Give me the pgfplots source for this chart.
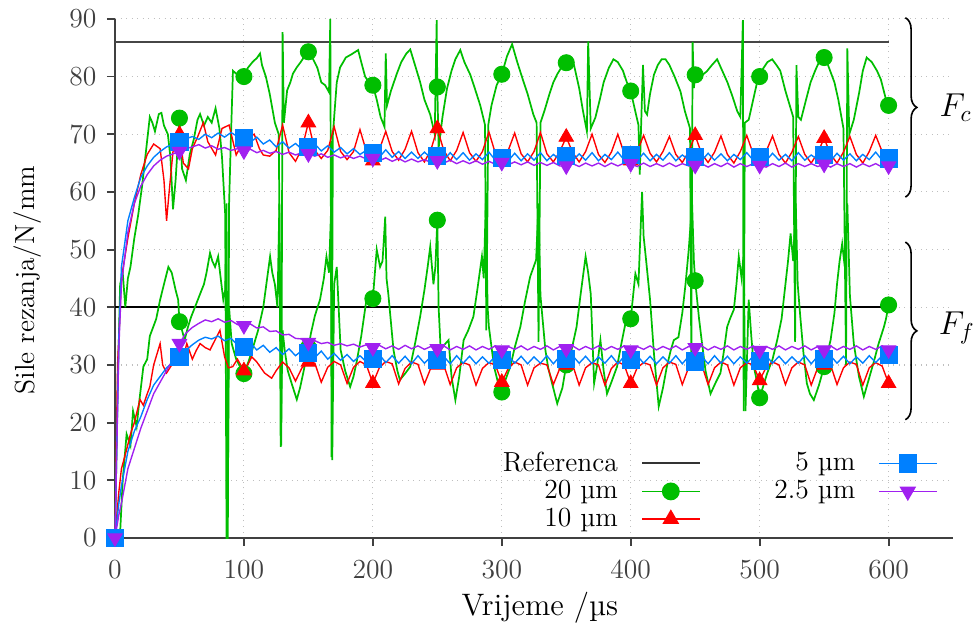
\documentclass[border=0pt]{standalone}
\usepackage{pgfplots}
\pgfplotsset{compat=1.18}
\usetikzlibrary{decorations.pathreplacing}
\definecolor{cgreen}{RGB}{0,190,0}
\definecolor{cred}{RGB}{255,0,0}
\definecolor{cblue}{RGB}{0,128,255}
\definecolor{cpurple}{RGB}{160,32,240}
\definecolor{cref}{RGB}{70,70,70}
\begin{document}
\begin{tikzpicture}
\useasboundingbox (-50pt,-40pt) rectangle (373.5pt,233.9pt);
\begin{axis}[
  at={(0,0)}, anchor=south west,
  scale only axis, width=364.4pt, height=225.7pt,
  xmin=0, xmax=650, ymin=0, ymax=90,
  xtick={0,100,...,600}, ytick={0,10,...,90},
  axis lines*=left, axis line style={-, black!75, line width=0.9pt},
  tick align=outside, major tick length=3.5pt,
  tick style={black!75, line width=0.8pt},
  grid=major, major grid style={black!25, dotted, line width=0.5pt},
  clip=false,
  ticklabel style={font=\large, text=black!75},
  yticklabel style={xshift=-1pt},
  xticklabel style={yshift=-3pt},
  xlabel={Vrijeme /µs}, ylabel={Sile rezanja/N/mm},
  label style={font=\large},
  xlabel style={at={(axis description cs:0.507,-0.135)}, anchor=center, font=\fontsize{13.5}{16}\selectfont},
  ylabel style={at={(axis description cs:-0.104,0.497)}, anchor=center, rotate=0},
  legend plot pos=right,
  transpose legend, legend columns=3,
  legend cell align=right,
  legend image code/.code={\draw[mark repeat=2,mark phase=2] plot coordinates {(0cm,0cm) (0.44cm,0cm) (0.88cm,0cm)};},
  legend style={at={(axis description cs:0.9845,0.18)}, anchor=north east, draw=none, fill=none,
    font=\large, row sep=-1.5pt, inner sep=1pt,
    /tikz/every even column/.append style={column sep=30pt},
    /tikz/every odd column/.append style={column sep=8pt}},
]
% reference
\addplot[forget plot, cref, line width=1pt] coordinates {(0,86) (600,86)};
\addplot[forget plot, black, line width=0.8pt] coordinates {(0,40) (600,40)};
% ---------- 20 um (green)
\addplot[forget plot, cgreen, line width=0.75pt] coordinates {
(0,0)(2,25)(4,44)(6,46)(8,40)(10,45)(12,47)(15,52)(18,56)(21,61)(24,67)(27,73)(29,72)(31,70.5)(34,73.5)(36,73.7)(38,71.5)(41,70)(43,66)(45,57)(47,62)(50,72.8)(52,64)(55,62)(58,66.5)(61,69)(64,72.5)(66,73.5)(69,71.5)(72,73)(75,72)(78,74.5)(81,71)(83,66)(85.5,56)(86.5,0)(87.5,0)(88.5,58)(90,70)(91.5,81)(94,80.5)(97,79.7)(100,80)(103,81.5)(107,82.6)(110,83.2)(112.5,84)(114,82)(117,80)(120,77)(124,72)(127,70)(129,16)(130,87.7)(131,72)(133.5,77.6)(136,79)(138,80.5)(141,81.6)(144,82.5)(147,83.5)(150,84.3)(153,83.3)(157,81.5)(160,79)(163,78.5)(166,77.3)(167,90)(168,14)(169,70)(172,79)(174.6,81.6)(177,82.5)(179,83.3)(183,83.8)(188.6,84.6)(191,82.5)(194,80)(197,79)(200,78.5)(203,76)(206,73)(209,71.3)(210,84)(211,75)(214,77.5)(218.6,80.5)(222,82.5)(226,84)(229,84.7)(232,82.5)(236.7,79)(240,76)(244.5,73.4)(248,70)(249.5,89.8)(250,78.2)(251,67.6)(254,73)(257.5,77.9)(261,81)(264,83)(267.8,84.6)(271,82.5)(275.6,80.3)(279,78)(283.3,75)(287,71.6)(288,36)(289.5,71.6)(292,75)(296,78.5)(300,80.4)(304,83.5)(308,85.6)(312,82.5)(317,79)(320,77)(324.5,73.4)(327,72)(328.5,34)(330,72)(333,74)(337,77)(340,79)(343,80.4)(346,81.5)(349.3,82.4)(353,83)(356,82)(360,78)(363,74)(366,70.5)(367,86.1)(369,71)(372.6,72.9)(376,76)(379,79)(383,81.5)(386.6,83)(390,82.5)(394,81)(397,79)(400,77.5)(403,74.5)(406,71.6)(407,63)(408,71)(409.5,82)(411,74)(412.7,73.4)(415,77)(418,80.3)(421,82)(424,83)(427,83)(430,82)(434,80)(438.6,77.4)(442,74)(446,71)(447,30)(448,86)(449,78)(450,80.3)(454,80)(459,80.9)(463,82)(467,83)(471,81)(475,79)(479,76.5)(482.6,74)(485,73)(487,89.8)(487.6,22)(488.5,72)(491.5,72.5)(495,76)(499,80)(503,81.5)(506,82.5)(509.7,83)(513,82)(516,81)(520,77.5)(524,74.5)(526,73)(527.5,34)(528.5,82)(530,73)(532,72.5)(536,76)(539.5,79)(543,81)(546,82.5)(549.6,83.3)(553,82)(558,79)(561,76)(563,73.5)(565,71)(567,30)(568,84.9)(569.5,70)(573,72.5)(577,77)(580,81)(583,83.3)(587,82.5)(591,81)(594,79.5)(598,76)(600,75)};
\addplot[forget plot, cgreen, line width=0.75pt] coordinates {
(0,0)(4,1)(6,10)(9,18)(12,16)(14,22)(16.8,19.3)(19,24)(22,29.7)(25,31)(27,35)(29.7,36.6)(32,38)(35,41.3)(38,44)(41.4,47)(44,46)(47,43)(49,41.3)(50,37.5)(52,36)(54,34.3)(56.5,36.5)(59,38.3)(62,40)(66,42.3)(69,44)(71,46)(73.7,49.4)(75.5,48)(77.6,47)(80,48.8)(82,45)(84,41.3)(85.5,43)(86.5,58)(87.5,5)(88.5,40)(90.5,33.7)(94,31)(97,29.7)(100,28.5)(103.6,30.6)(107,33)(111,36)(115,40)(118,45)(120.3,48.8)(122,46)(124,44)(126,40)(127.5,58)(128.5,15.8)(130,36)(131.6,32.6)(134,29)(137,26.8)(141,24)(143.5,26)(146,28.6)(150,33)(152,35.5)(155,38.5)(159,41.3)(162,45)(164,48.8)(166,46)(167.5,56.3)(168.5,13.5)(170,44)(172,47)(175,32.6)(178.5,29)(182.4,26.2)(185,28)(187.5,30.6)(191,35)(195,41.3)(200,41.5)(203,50)(205.6,47)(207.5,48)(209.6,55.7)(210.6,45)(212,42.3)(216,32.6)(219,29)(221,27.4)(225,28.5)(229,29.7)(233,34)(236.7,38.4)(240,43)(242.5,47)(244.5,50.5)(247,44)(248.5,47)(250,55.1)(251,40)(252.6,32.6)(255.5,33.5)(258.7,34.3)(261,28)(264,23.9)(267,28)(270.4,34.3)(274,36)(278,38.4)(281,43)(284.6,48.8)(286,45)(287.6,58)(289,40)(290,36.6)(294,29.7)(297,27)(300,25.3)(303,27.5)(306.6,29.7)(310,33)(314.4,36.6)(318,41)(322,45.3)(326.6,48.2)(328.5,58)(330,42)(333.8,32.6)(336,29.5)(339,26.8)(343,23.3)(347,26)(350,30)(354,32.5)(358,36.6)(361,42)(365,48.8)(367,46)(369,42.3)(371.6,26.8)(374,30)(376.5,34.3)(379,29)(381.6,25)(385,27)(389.4,29.7)(393,34)(397,38.4)(400,38)(403.6,45.8)(406,44)(408.8,60)(410,52.3)(412,48)(415,41.3)(418,32)(421.7,22.8)(425,26)(428,29.7)(431,32.5)(433.4,34.3)(437,34.8)(440,39)(442.5,44)(445,50)(447.6,58)(449,48)(450,44.6)(453,38)(455,34.3)(458,29)(461.9,25)(466,27)(469.6,28.6)(472,32)(474.8,36.6)(477,38)(480,39.6)(482,44)(483.8,48.8)(486,45)(487.6,49.4)(489,22)(491.5,41.3)(493.5,35)(495.5,29.7)(498,27)(500,24.3)(503,26.5)(505.9,28.6)(510,31)(513.6,34.3)(517,38)(520,44)(522,48)(524,52.8)(526,48)(528,58)(529.5,44)(531.5,38.4)(534,32)(536.6,26.8)(539,25)(542,23.9)(546,26.5)(550,29.7)(552.5,32)(555,34.3)(558,39)(560,44)(562,48)(564,51)(566,47)(568,58)(570,42)(573,33.7)(577,28)(580.8,24.5)(584,27)(588.6,30.6)(592,33.5)(596.4,36.6)(598,38)(600,40.4)};
\addplot[forget plot, only marks, mark=*, mark size=3.5pt, cgreen] coordinates {
(0,0)(50,72.8)(100,80)(150,84.3)(200,78.5)(250,78.2)(300,80.4)(350,82.4)(400,77.5)(450,80.3)(500,80)(550,83.3)(600,75)
(50,37.5)(100,28.5)(150,33)(200,41.5)(250,55.1)(300,25.3)(350,30)(400,38)(450,44.6)(500,24.3)(550,29.7)(600,40.4)};
% ---------- 10 um (red)
\addplot[forget plot, cred, line width=0.6pt] coordinates {
(0,0)(2,30)(5,45)(10,52)(15,58)(20,63)(25,66.5)(30,68.3)(35,67.5)(38,62)(40,55)(42,60)(45,67)(50,70)(53,65)(57,64)(60,67.5)(64,69.5)(68.5,72)(72,68.7)(78,66.4)(83,71)(88.5,71.6)(94,66.4)(100,69)(104,69.5)(108,70)(112,67.5)(115,66.4)(120,66.2)(125,67.2)(130,71.6)(135,66.8)(140,65.3)(145,67.5)(150,72)(155,67.2)(160,65.8)(165,67.2)(170,71.3)(175,67)(180,65.6)(185,67)(190,70.8)(195,67)(200,65.4)(205,67.3)(210,70.5)(215,67)(220,65.5)(225,67.4)(230,70.5)(235,66.8)(240,65.2)(245,67.3)(250,71)(255,67.2)(260,65.4)(265,67.2)(270,70.3)(275,66.8)(280,65.3)(285,67)(290,70.4)(295,66.7)(300,65.4)(305,67.2)(310,70.2)(315,66.6)(320,65.2)(325,67)(330,70.3)(335,66.6)(340,65.2)(345,67)(350,69.5)(355,66.8)(360,65.2)(365,67)(370,70)(375,66.5)(380,65.1)(385,66.9)(390,70)(395,66.6)(400,65.4)(405,67)(410,69.8)(415,66.7)(420,65.2)(425,67)(430,69.6)(435,66.5)(440,65.1)(445,67)(450,69.8)(455,66.6)(460,65.1)(465,66.9)(470,69.7)(475,66.5)(480,65)(485,67)(490,69.8)(495,66.6)(500,65.4)(505,67)(510,69.7)(515,66.5)(520,65)(525,66.9)(530,69.6)(535,66.5)(540,65)(545,66.8)(550,69.3)(555,66.5)(560,65)(565,66.9)(570,69.6)(575,66.5)(580,65)(585,67)(590,69.8)(595,67)(600,65.6)};
\addplot[forget plot, cred, line width=0.6pt] coordinates {
(0,0)(3,8)(5,12)(9,15.3)(12,18)(15,20)(19.4,24)(22,23)(25,25)(27,26.2)(30,30)(35,33.7)(37,30)(40,28.6)(44,30)(48,31.4)(50,31)(52,30.5)(55.7,33.7)(60,31)(63,32.5)(66,33.7)(70,33)(73.7,32.6)(78,34.5)(81.4,36)(85,31.4)(88,29.5)(91.3,29.7)(95,31)(100,29)(103,30)(106,31.4)(110,30.5)(116,28.6)(121.5,27.7)(125,29)(130,30.5)(135,29.5)(140,27.2)(145,29.5)(150,30.5)(155,30.3)(160,27)(165,29.6)(170,30.6)(175,30)(180,26.8)(185,29.6)(190,30.6)(195,30)(200,26.8)(205,29.5)(210,30.6)(215,30.2)(220,26.7)(225,29.4)(230,30.5)(235,30.1)(240,26.7)(245,29.5)(250,30)(255,30)(260,26.6)(265,29.5)(270,30.4)(275,30)(280,26.5)(285,29.4)(290,30.4)(295,30)(300,27)(305,29.4)(310,30.5)(315,30)(320,26.5)(325,29.5)(330,30.3)(335,30)(340,26.6)(345,29.4)(350,30)(355,30)(360,26.5)(365,29.5)(370,30.4)(375,30)(380,26.5)(385,29.4)(390,30.5)(395,30)(400,26.8)(405,29.5)(410,30.4)(415,30)(420,26.5)(425,29.5)(430,30.5)(435,30.1)(440,26.6)(445,29.6)(450,30.5)(455,30.1)(460,26.6)(465,29.5)(470,30.5)(475,30)(480,26.5)(485,29.5)(490,30.4)(495,30)(500,27.3)(505,29.6)(510,30.5)(515,30)(520,26.6)(525,29.5)(530,30.5)(535,30)(540,26.5)(545,29.5)(550,30)(555,30)(560,26.6)(565,29.5)(570,30.5)(575,30.1)(580,26.5)(585,29.5)(590,30.4)(595,29.8)(600,26.8)};
\addplot[forget plot, only marks, mark=triangle*, mark size=3.6pt, cred] coordinates {
(0,0)(50,70)(100,69)(150,72)(200,65.4)(250,71)(300,65.4)(350,69.5)(400,65.4)(450,69.8)(500,65.4)(550,69.3)(600,65.6)
(50,31)(100,29)(150,30.5)(200,26.8)(250,30)(300,27)(350,30)(400,26.8)(450,30.5)(500,27.3)(550,30)(600,26.8)};
% ---------- 5 um (blue)
\addplot[forget plot, cblue, line width=0.6pt] coordinates {
(0,0)(3,35)(5,47)(10,55)(15,59)(20,62.5)(25,64.5)(30,66)(35,67)(40,67.8)(45,68.3)(50,68.7)(55,69.2)(60,69.6)(65,69.1)(70,70)(75,69.4)(80,70.2)(85,69.5)(90,70.3)(95,69.6)(100,69.4)(105,68.6)(110,69.5)(115,68.3)(120,69)(125,67.8)(130,68.7)(135,67.6)(140,68.4)(145,67.4)(150,67.8)(155,68.3)(160,67.1)(165,68)(170,66.9)(175,67.7)(180,66.6)(185,67.5)(190,66.5)(195,67.2)(200,66.8)(205,66)(210,67.3)(215,66)(220,67)(225,65.8)(230,66.9)(235,65.8)(240,66.9)(245,65.9)(250,66.3)(255,65.5)(260,66.8)(265,65.6)(270,66.8)(275,65.5)(280,66.6)(285,65.6)(290,66.9)(295,65.5)(300,65.9)(305,65.4)(310,66.7)(315,65.4)(320,66.6)(325,65.5)(330,66.8)(335,65.4)(340,66.5)(345,65.6)(350,66.2)(355,65.4)(360,66.6)(365,65.5)(370,66.8)(375,65.4)(380,66.5)(385,65.6)(390,66.9)(395,65.5)(400,66.4)(405,65.5)(410,66.7)(415,65.4)(420,66.5)(425,65.5)(430,66.8)(435,65.4)(440,66.4)(445,65.6)(450,66)(455,65.4)(460,66.7)(465,65.5)(470,66.6)(475,65.4)(480,66.5)(485,65.6)(490,66.8)(495,65.5)(500,66)(505,65.4)(510,66.7)(515,65.5)(520,66.5)(525,65.4)(530,66.8)(535,65.5)(540,66.4)(545,65.6)(550,66.4)(555,65.4)(560,66.7)(565,65.5)(570,66.6)(575,65.4)(580,66.5)(585,65.6)(590,66.9)(595,65.5)(600,65.8)};
\addplot[forget plot, cblue, line width=0.6pt] coordinates {
(0,0)(3,6)(5,9)(10,15)(15,18.5)(20,21)(25,24)(30,26.5)(35,28)(40,29.5)(45,30.5)(50,31.3)(55,32.5)(60,33.5)(65,34.3)(70,34.8)(75,34.5)(80,35)(85,34.2)(90,34.6)(95,33.5)(100,33.2)(105,33.8)(110,32.6)(115,33.4)(120,32.2)(125,33)(130,31.8)(135,32.8)(140,31.6)(145,32.5)(150,32)(155,31.3)(160,32.4)(165,31)(170,32)(175,30.8)(180,31.8)(185,30.6)(190,31.6)(195,30.5)(200,31)(205,31.8)(210,30.4)(215,31.6)(220,30.3)(225,31.5)(230,30.2)(235,31.6)(240,30.3)(245,31.4)(250,30.8)(255,31.5)(260,30.2)(265,31.6)(270,30.3)(275,31.5)(280,30.2)(285,31.4)(290,30.3)(295,31.5)(300,30.8)(305,31.6)(310,30.3)(315,31.5)(320,30.2)(325,31.4)(330,30.3)(335,31.6)(340,30.2)(345,31.5)(350,31)(355,31.6)(360,30.3)(365,31.5)(370,30.2)(375,31.4)(380,30.3)(385,31.6)(390,30.2)(395,31.5)(400,30.8)(405,31.6)(410,30.3)(415,31.5)(420,30.2)(425,31.4)(430,30.3)(435,31.6)(440,30.2)(445,31.5)(450,30.6)(455,31.5)(460,30.2)(465,31.6)(470,30.3)(475,31.5)(480,30.2)(485,31.4)(490,30.3)(495,31.5)(500,30.7)(505,31.6)(510,30.3)(515,31.5)(520,30.2)(525,31.4)(530,30.3)(535,31.6)(540,30.2)(545,31.5)(550,31)(555,31.6)(560,30.3)(565,31.5)(570,30.2)(575,31.4)(580,30.3)(585,31.6)(590,30.4)(595,31.6)(600,31.8)};
\addplot[forget plot, only marks, mark=square*, mark size=3.7pt, cblue] coordinates {
(0,0)(50,68.7)(100,69.4)(150,67.8)(200,66.8)(250,66.3)(300,65.9)(350,66.2)(400,66.4)(450,66)(500,66)(550,66.4)(600,65.8)
(50,31.3)(100,33.2)(150,32)(200,31)(250,30.8)(300,30.8)(350,31)(400,30.8)(450,30.6)(500,30.7)(550,31)(600,31.8)};
% ---------- 2.5 um (purple)
\addplot[forget plot, cpurple, line width=0.6pt] coordinates {
(0,0)(3,33)(5,44)(10,53)(15,58)(20,61)(25,63)(30,64.5)(35,65.5)(40,66.2)(45,66.6)(50,67)(55,67.5)(60,67.8)(65,68.2)(70,67.6)(75,68)(80,67.4)(85,67.7)(90,67.2)(95,67.5)(100,67.1)(105,67.4)(110,66.8)(115,67.2)(120,66.7)(125,67)(130,66.5)(135,66.9)(140,66.4)(145,66.8)(150,66.6)(155,66.2)(160,66.6)(165,66)(170,66.4)(175,65.9)(180,66.3)(185,65.8)(190,66.2)(195,65.7)(200,65.8)(205,65.4)(210,65.9)(215,65.3)(220,65.8)(225,65.2)(230,65.7)(235,65.2)(240,65.6)(245,65.1)(250,65.4)(255,65)(260,65.5)(265,64.9)(270,65.4)(275,64.9)(280,65.4)(285,64.8)(290,65.3)(295,64.8)(300,65.1)(305,64.7)(310,65.2)(315,64.7)(320,65.2)(325,64.6)(330,65.1)(335,64.6)(340,65.1)(345,64.5)(350,64.5)(355,64.9)(360,64.4)(365,65)(370,64.5)(375,65)(380,64.4)(385,65)(390,64.5)(395,65)(400,64.9)(405,64.4)(410,65)(415,64.4)(420,64.9)(425,64.4)(430,65)(435,64.4)(440,64.9)(445,64.5)(450,64.6)(455,64.9)(460,64.3)(465,64.9)(470,64.4)(475,65)(480,64.3)(485,64.9)(490,64.4)(495,64.9)(500,64.6)(505,64.3)(510,64.9)(515,64.4)(520,65)(525,64.3)(530,64.9)(535,64.4)(540,64.9)(545,64.4)(550,64.8)(555,64.3)(560,64.9)(565,64.4)(570,64.9)(575,64.3)(580,64.9)(585,64.4)(590,64.9)(595,64.3)(600,64.5)};
\addplot[forget plot, cpurple, line width=0.6pt] coordinates {
(0,0)(3,4)(5,6)(10,12)(15,15.5)(20,19)(25,22)(30,25)(35,27)(40,29)(45,31)(50,33.7)(55,35.5)(60,36.5)(65,37.2)(70,37.8)(75,37.5)(80,38)(85,37.4)(90,37.7)(95,37)(100,36.8)(105,37.1)(110,36.4)(115,36.6)(120,35.8)(125,35.9)(130,35.2)(135,35.3)(140,34.6)(145,34.5)(150,33.9)(155,34.2)(160,33.7)(165,33.9)(170,33.4)(175,33.7)(180,33.3)(185,33.6)(190,33.1)(195,33.5)(200,33)(205,33.4)(210,32.8)(215,33.3)(220,32.7)(225,33.4)(230,32.8)(235,33.3)(240,32.7)(245,33.2)(250,32.8)(255,33.3)(260,32.6)(265,33.2)(270,32.7)(275,33.3)(280,32.6)(285,33.2)(290,32.7)(295,33.3)(300,32.6)(305,33.2)(310,32.7)(315,33.3)(320,32.6)(325,33.2)(330,32.7)(335,33.3)(340,32.6)(345,33.2)(350,32.8)(355,33.3)(360,32.6)(365,33.2)(370,32.7)(375,33.3)(380,32.6)(385,33.2)(390,32.7)(395,33.3)(400,32.6)(405,33.2)(410,32.7)(415,33.3)(420,32.6)(425,33.2)(430,32.7)(435,33.3)(440,32.6)(445,33.2)(450,33)(455,33.3)(460,32.6)(465,33.2)(470,32.7)(475,33.3)(480,32.6)(485,33.2)(490,32.7)(495,33.3)(500,32.5)(505,33.2)(510,32.7)(515,33.3)(520,32.6)(525,33.2)(530,32.7)(535,33.3)(540,32.6)(545,33.2)(550,32.6)(555,33.3)(560,32.6)(565,33.2)(570,32.7)(575,33.3)(580,32.6)(585,33.2)(590,32.7)(595,33.3)(600,32.6)};
\addplot[forget plot, only marks, mark=triangle*, mark size=3.6pt, mark options={rotate=180}, cpurple] coordinates {
(0,0)(50,67)(100,67.1)(150,66.6)(200,65.8)(250,65.4)(300,65.1)(350,64.5)(400,64.9)(450,64.6)(500,64.6)(550,64.8)(600,64.5)
(50,33.7)(100,36.8)(150,33.9)(200,33)(250,32.8)(300,32.6)(350,32.8)(400,32.6)(450,33)(500,32.5)(550,32.6)(600,32.6)};
% ---------- legend
\addlegendimage{black!80, line width=0.9pt}
\addlegendentry{Referenca}
\addlegendimage{cgreen, line width=0.75pt, mark=*, mark size=3.5pt}
\addlegendentry{20 µm}
\addlegendimage{cred, line width=0.6pt, mark=triangle*, mark size=3.6pt}
\addlegendentry{10 µm}
\addlegendimage{cblue, line width=0.6pt, mark=square*, mark size=3.7pt}
\addlegendentry{5 µm}
\addlegendimage{cpurple, line width=0.6pt, mark=triangle*, mark size=3.6pt, mark options={rotate=180}}
\addlegendentry{2.5 µm}
% braces
\draw[decorate, decoration={brace, amplitude=5pt}, line width=0.7pt] (axis cs:613,90.2) -- (axis cs:613,59.1);
\draw[decorate, decoration={brace, amplitude=5pt}, line width=0.7pt] (axis cs:613,51.3) -- (axis cs:613,20.5);
\node[font=\Large] at (axis cs:652,74.6) {$F_c$};
\node[font=\Large] at (axis cs:653,36.4) {$F_f$};
\end{axis}
\end{tikzpicture}
\end{document}
